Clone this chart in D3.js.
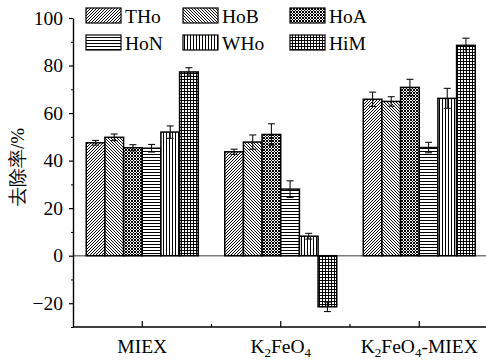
<!DOCTYPE html>
<html>
<head>
<meta charset="utf-8">
<script src="https://cdn.jsdelivr.net/npm/d3@7"></script>
<style>
  body { margin: 0; background: #fff; }
  svg { display: block; font-family: "Liberation Serif", "Times New Roman", serif; }
</style>
</head>
<body>
<svg id="chart" width="486" height="362"></svg>
<script>
// categories + series
var categories = ["MIEX", "K2FeO4", "K2FeO4-MIEX"];
var series = ["THo", "HoB", "HoA", "HoN", "WHo", "HiM"];

// removal rate (%) per category, series order as above
var values_MIEX = [47.5, 49.8, 45.4, 45.2, 52.0, 77.3];
var values_K2FeO4 = [43.7, 47.8, 51.0, 28.0, 8.2, -21.5];
var values_combined = [65.8, 64.9, 70.8, 45.5, 66.2, 88.5];

var errors_MIEX = [1.0, 1.4, 1.3, 1.6, 2.6, 1.8];
var errors_K2FeO4 = [1.1, 3.0, 4.5, 3.5, 1.2, 2.0];
var errors_combined = [3.0, 2.0, 3.4, 2.2, 4.2, 3.0];

var y_ticks = [-20, 0, 20, 40, 60, 80, 100];
var y_minor = [-30, -10, 10, 30, 50, 70, 90];

var values = [values_MIEX, values_K2FeO4, values_combined];
var errors = [errors_MIEX, errors_K2FeO4, errors_combined];

var rows = [];
categories.forEach(function(c, i){
  series.forEach(function(s, j){
    rows.push({ cat: c, series: s, value: values[i][j], err: errors[i][j] });
  });
});

var svg = d3.select("#chart");
var plot_left = 73, plot_right = 488.5, plot_top = 18, plot_bottom = 327;
var font_size = 19.5;

var x0 = d3.scaleBand().domain(categories).range([plot_left, plot_right]);
var group_w = 112;
var x1 = d3.scaleBand().domain(series).range([0, group_w]);
var group_off = (x0.bandwidth() - group_w) / 2;
var y = d3.scaleLinear().domain([-30, 100]).range([plot_bottom, plot_top]);

/*************************** patterns ***************************/

// each pattern: tile size + list of dark cells [x, y, w, h]
var defs = svg.append("defs");
function makePattern(id, w, h, cells, bg, fg){
  var p = defs.append("pattern").attr("id", id)
    .attr("patternUnits", "userSpaceOnUse").attr("width", w).attr("height", h);
  p.append("rect").attr("width", w).attr("height", h).attr("fill", bg);
  cells.forEach(function(c){
    p.append("rect").attr("x", c[0]).attr("y", c[1]).attr("width", c[2]).attr("height", c[3])
      .attr("fill", fg).attr("shape-rendering", "crispEdges");
  });
}
makePattern("p_THo", 3, 3, [[0,2,1,1],[1,1,1,1],[2,0,1,1]], "#fff", "#000");
makePattern("p_HoB", 3, 3, [[0,0,1,1],[1,1,1,1],[2,2,1,1]], "#fff", "#111");
makePattern("p_HoA", 3, 3, [[0,0,1,1],[1,1,1,1],[2,2,1,1],[2,0,1,1],[0,2,1,1]], "#fff", "#000");
makePattern("p_HoN", 3, 3, [[0,1,3,1]], "#fff", "#000");
makePattern("p_WHo", 3, 3, [[1,0,1,3]], "#fff", "#000");
makePattern("p_HiM", 3, 3, [[0,1,3,1],[1,0,1,3]], "#fff", "#000");

/*************************** zero line ***************************/

svg.append("line")
  .attr("x1", plot_left).attr("x2", 486).attr("y1", y(0)).attr("y2", y(0))
  .attr("stroke", "#7a7a7a").attr("stroke-width", 1.5);

/*************************** bars ***************************/

var bars = svg.append("g");
bars.selectAll("rect").data(rows).enter().append("rect")
  .attr("x", function(d){ return x0(d.cat) + group_off + x1(d.series); })
  .attr("width", x1.bandwidth())
  .attr("y", function(d){ return y(Math.max(0, d.value)); })
  .attr("height", function(d){ return Math.abs(y(d.value) - y(0)); })
  .attr("fill", function(d){ return "url(#p_" + d.series + ")"; })
  .attr("stroke", "#000").attr("stroke-width", 1.5);

// error bars
var cap = 3.5;
var eb = svg.append("g").attr("stroke", "#111").attr("stroke-width", 1.1);
rows.forEach(function(d){
  var cx = x0(d.cat) + group_off + x1(d.series) + x1.bandwidth() / 2;
  var y_hi = y(d.value + d.err), y_lo = y(d.value - d.err);
  eb.append("line").attr("x1", cx).attr("x2", cx).attr("y1", y_hi).attr("y2", y_lo);
  eb.append("line").attr("x1", cx - cap).attr("x2", cx + cap).attr("y1", y_hi).attr("y2", y_hi);
  eb.append("line").attr("x1", cx - cap).attr("x2", cx + cap).attr("y1", y_lo).attr("y2", y_lo);
});

/*************************** axes ***************************/

var yAxis = svg.append("g").attr("transform", "translate(" + plot_left + ",0)")
  .call(d3.axisLeft(y).tickValues(y_ticks).tickSize(4).tickSizeOuter(0).tickPadding(6)
    .tickFormat(function(d){ return d < 0 ? "\u2212" + Math.abs(d) : d; }));
yAxis.selectAll("text").attr("font-size", font_size).attr("fill", "#000")
  .attr("font-family", "Liberation Serif, serif");
yAxis.select(".domain").attr("stroke-width", 1.4);
yAxis.selectAll(".tick line").attr("stroke-width", 1.2);

svg.append("g").attr("transform", "translate(" + plot_left + ",0)")
  .call(d3.axisLeft(y).tickValues(y_minor).tickSize(2).tickSizeOuter(0).tickFormat(""))
  .call(function(g){ g.select(".domain").remove(); });

var xAxis = svg.append("g").attr("transform", "translate(0," + plot_bottom + ")");
xAxis.append("line").attr("x1", plot_left).attr("x2", 486).attr("y1", 0).attr("y2", 0)
  .attr("stroke", "#000").attr("stroke-width", 1.4);
xAxis.selectAll(".major").data(categories).enter().append("line")
  .attr("x1", function(d){ return x0(d) + x0.bandwidth() / 2; })
  .attr("x2", function(d){ return x0(d) + x0.bandwidth() / 2; })
  .attr("y1", 0).attr("y2", -6).attr("stroke", "#000").attr("stroke-width", 1.2);
xAxis.selectAll(".minor").data(categories.slice(1)).enter().append("line")
  .attr("x1", function(d){ return x0(d); }).attr("x2", function(d){ return x0(d); })
  .attr("y1", 0).attr("y2", -3).attr("stroke", "#000").attr("stroke-width", 1.2);

// category labels (with subscripts)
var labels = svg.append("g").attr("font-size", font_size).attr("text-anchor", "middle");
categories.forEach(function(c){
  var t = labels.append("text").attr("x", x0(c) + x0.bandwidth() / 2).attr("y", 353);
  var parts = c.split(/(\d)/);
  parts.forEach(function(p){
    if(p === "") return;
    if(/\d/.test(p)){
      t.append("tspan").text(p).attr("font-size", 13).attr("dy", 4);
    } else {
      var ts = t.append("tspan").text(p);
      if(t.selectAll("tspan").size() > 1) ts.attr("dy", -4);
    }
  });
});

// y label
svg.append("text")
  .attr("transform", "translate(24,167) rotate(-90)")
  .attr("text-anchor", "middle")
  .attr("font-size", 19)
  .text("去除率/%");

/*************************** legend ***************************/

var legend_x = [86, 183, 290];
var legend_y = [8, 35];
var legend = svg.append("g");
series.forEach(function(s, i){
  var lx = legend_x[i % 3], ly = legend_y[Math.floor(i / 3)];
  legend.append("rect").attr("x", lx).attr("y", ly).attr("width", 35).attr("height", 15)
    .attr("fill", "url(#p_" + s + ")").attr("stroke", "#000").attr("stroke-width", 1.2);
  legend.append("text").attr("x", lx + 39).attr("y", ly + 14.5).attr("font-size", font_size).text(s);
});
</script>
</body>
</html>
